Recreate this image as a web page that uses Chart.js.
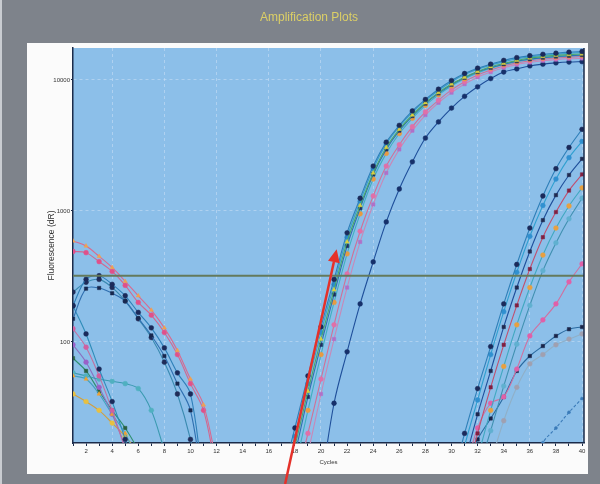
<!DOCTYPE html>
<html>
<head>
<meta charset="utf-8">
<title>Amplification Plots</title>
<script src="https://cdn.jsdelivr.net/npm/chart.js@4.4.1/dist/chart.umd.min.js"></script>
<style>
  html, body { margin: 0; padding: 0; background: #7e838b; }
  #plot { display: block; }
</style>
</head>
<body>
<canvas id="plot" width="600" height="484"></canvas>
<script>
// ---- axis data -------------------------------------------------------
const cycleTicks = [1,2,3,4,5,6,7,8,9,10,11,12,13,14,15,16,17,18,19,20,
                    21,22,23,24,25,26,27,28,29,30,31,32,33,34,35,36,37,38,39,40];
const fluorTicks = [100, 1000, 10000];
const thresholdDR = 320;

// ---- wells that amplify early (first value is at the listed start cycle) ----
const wellE1 = [9,22,55,130,300,680,1250,2200,3350,4500,5800,7100,8500,9900,11200,12300,13200,14100,14800,15300,15700,16000,16300,16500];
const wellE2 = [7,16,42,105,250,580,1100,1950,3050,4200,5400,6700,8000,9300,10500,11600,12600,13400,14100,14700,15100,15400,15600,15800];
const wellE3 = [6,14,38,95,230,540,1050,1900,2950,4100,5300,6600,7900,9200,10400,11500,12400,13200,13900,14400,14800,15100,15300,15500];
const wellE4 = [5,11,30,80,200,470,950,1750,2750,3900,5100,6400,7700,9000,10200,11300,12300,13100,13800,14300,14700,15000,15200,15400];
const wellE5 = [4,8,20,52,135,330,700,1300,2200,3200,4400,5700,7000,8400,9700,10900,11900,12800,13500,14000,14400,14700,14900,15100];
const wellE6 = [5,14,40,105,260,580,1120,1950,2950,4100,5400,6700,8000,9300,10500,11500,12400,13100,13600,14000,14300,14500,14600];
const wellE7 = [8,34,84,195,408,824,1470,2370,3600,4780,6100,7500,8870,10250,11500,12150,12800,13200,13500,13700,13800];
const wellE8 = [8,19,48,118,275,630,1180,2100,3250,4400,5650,6950,8300,9700,11000,12100,13000,13800,14500,15000,15400,15700,16000,16200];

// ---- baseline drift of the non-amplifying wells (from cycle 1) ----
const wellB1  = [590,540,450,370,290,225,175,128,86,52,33,12];
const wellB2  = [490,480,410,345,270,200,160,118,80,48,30,10];
const wellB3  = [190,300,320,275,225,168,128,90,58,40,8];
const wellB4  = [150,255,258,235,205,152,112,78,48,30,7];
const wellB5  = [240,285,300,260,205,150,108,70,40,18,6];
const wellB6  = [188,115,62,35,18,8];
const wellB7  = [126,91,55,30,15,7];
const wellB8  = [55,52,40,28,20,12];
const wellB9  = [58,55,52,50,48,44,30,15,8];
const wellB10 = [95,70,45,28,16,9];
const wellB11 = [75,60,42,30,22,15,10];
const wellB12 = [40,35,30,24,19,14,8];

// ---- wells that amplify late ----
const wellC1  = [8,20,44,92,195,390,740,1300,2100,3050,4200];
const wellC2  = [6,16,36,80,170,340,640,1100,1750,2550,3400];
const wellC3  = [12,28,60,130,260,490,850,1320,1880,2500];
const wellC4  = [8,20,45,95,190,360,630,980,1430,1900];
const wellC5  = [13,30,65,135,260,460,740,1090,1500];
const wellC6  = [10,21,46,96,190,350,570,870,1250];
const wellC7  = [10,22,34,38,62,111,147,195,287,394];
const wellC8  = [10,18,26,38,60,78,93,111,125,130];
const wellC9  = [12,25,45,68,80,95,105,115];
const wellC10 = [10,17,22,29,37];

// start cycle of each well's list
const startCycle = {
  E1: 17, E2: 17, E3: 17, E4: 17, E5: 17, E6: 18, E7: 20, E8: 17,
  B1: 1, B2: 1, B3: 1, B4: 1, B5: 1, B6: 1, B7: 1, B8: 1, B9: 1, B10: 1, B11: 1, B12: 1,
  C1: 30, C2: 30, C3: 31, C4: 31, C5: 32, C6: 32, C7: 31, C8: 31, C9: 33, C10: 36
};

// ---- look of each trace: line colour, marker colour, marker shape ----
const look = {
  E1: ['#2e7fb8', '#1b2a5a', 'circle'],
  E2: ['#4aa86a', '#d9d040', 'triangle'],
  E3: ['#2f6fb0', '#1e3060', 'rect'],
  E4: ['#40b0c0', '#e89a40', 'circle'],
  E5: ['#d07098', '#e070a8', 'circle'],
  E6: ['#c888b8', '#b070c8', 'rect'],
  E7: ['#1f4f9a', '#16306a', 'circle'],
  E8: ['#3aa0c8', '#2a8fd0', 'circle'],
  B1: ['#d86a90', '#f0a050', 'triangle'],
  B2: ['#d06890', '#e0508a', 'circle'],
  B3: ['#2e7fb8', '#1b2a5a', 'circle'],
  B4: ['#2f6fb0', '#18284e', 'rect'],
  B5: ['#3a8ab0', '#202c58', 'circle'],
  B6: ['#2e8cb8', '#1b2a5a', 'circle'],
  B7: ['#c070a0', '#d060a0', 'circle'],
  B8: ['#40a0c0', '#f0a030', 'triangle'],
  B9: ['#3a9ab0', '#50b0c0', 'circle'],
  B10: ['#8a70c0', '#9a60c8', 'circle'],
  B11: ['#2e8f70', '#2a6040', 'rect'],
  B12: ['#d0a040', '#e8c040', 'circle'],
  C1: ['#2e7fb8', '#1b2a5a', 'circle'],
  C2: ['#30a0d0', '#3090d0', 'circle'],
  C3: ['#1f4f9a', '#202a50', 'rect'],
  C4: ['#c05070', '#802040', 'rect'],
  C5: ['#40a8c0', '#e8a040', 'circle'],
  C6: ['#4090b0', '#60b0d0', 'circle'],
  C7: ['#d070a0', '#e060a8', 'circle'],
  C8: ['#2a6aa0', '#1a2448', 'rect'],
  C9: ['#90b0c8', '#a0a0b0', 'circle'],
  C10: ['#3a7ab8', '#3a7ab8', 'circle']
};

const wells = {
  E1: wellE1, E2: wellE2, E3: wellE3, E4: wellE4, E5: wellE5, E6: wellE6, E7: wellE7, E8: wellE8,
  B1: wellB1, B2: wellB2, B3: wellB3, B4: wellB4, B5: wellB5, B6: wellB6,
  B7: wellB7, B8: wellB8, B9: wellB9, B10: wellB10, B11: wellB11, B12: wellB12,
  C1: wellC1, C2: wellC2, C3: wellC3, C4: wellC4, C5: wellC5, C6: wellC6,
  C7: wellC7, C8: wellC8, C9: wellC9, C10: wellC10
};

const datasets = Object.keys(wells).map(name => {
  const [line, marker, shape] = look[name];
  return {
    label: name,
    data: wells[name].map((v, i) => ({ x: startCycle[name] + i, y: v })),
    borderColor: line,
    borderWidth: 1.1,
    borderDash: name === 'C10' ? [3, 2] : [],
    pointBackgroundColor: marker,
    pointBorderColor: marker,
    pointBorderWidth: 0.5,
    pointRadius: name === 'C10' ? 1.5 : 2.4,
    pointStyle: shape,
    tension: 0.35,
    order: 1
  };
});

// threshold line across the whole run
datasets.push({
  label: 'Threshold',
  data: [{ x: 1, y: thresholdDR }, { x: 40.15, y: thresholdDR }],
  borderColor: '#637a5c',
  borderWidth: 2,
  pointRadius: 0,
  tension: 0,
  order: 0
});

// panel, plot background, heading and the pointer arrow
const panel = {
  id: 'panel',
  beforeDraw(chart) {
    const { ctx, chartArea: a } = chart;
    ctx.save();
    ctx.fillStyle = '#7e838b';
    ctx.fillRect(0, 0, chart.width, chart.height);
    ctx.fillStyle = '#c9ccd1';
    ctx.fillRect(0, 0, 2, chart.height);
    ctx.fillStyle = '#fbfbfb';
    ctx.fillRect(27, 43, 561, 431);
    ctx.fillStyle = '#8cbfe9';
    ctx.fillRect(a.left, a.top, a.right - a.left, a.bottom - a.top);
    ctx.fillStyle = '#dccf66';
    ctx.font = '12px "Liberation Sans", Arial, sans-serif';
    ctx.textAlign = 'center';
    ctx.textBaseline = 'middle';
    ctx.fillText('Amplification Plots', 309, 18);
    ctx.restore();
  },
  afterDraw(chart) {
    const { ctx, chartArea: a, scales: { x, y } } = chart;
    ctx.save();
    // right frame of the plot
    ctx.strokeStyle = '#1b2b4a';
    ctx.lineWidth = 1.5;
    ctx.beginPath();
    ctx.moveTo(a.right, a.top);
    ctx.lineTo(a.right, a.bottom);
    ctx.stroke();
    // pointer arrow towards the early curves
    const tx = x.getPixelForValue(21.2), ty = y.getPixelForValue(510);
    const sx = x.getPixelForValue(17.25), sy = chart.height;
    const ang = Math.atan2(ty - sy, tx - sx);
    const head = 13, half = 6;
    const bx = tx - head * Math.cos(ang), by = ty - head * Math.sin(ang);
    ctx.strokeStyle = '#e5312a';
    ctx.fillStyle = '#e5312a';
    ctx.lineWidth = 2.5;
    ctx.beginPath();
    ctx.moveTo(sx, sy);
    ctx.lineTo(bx, by);
    ctx.stroke();
    ctx.beginPath();
    ctx.moveTo(tx, ty);
    ctx.lineTo(bx + half * Math.sin(ang), by - half * Math.cos(ang));
    ctx.lineTo(bx - half * Math.sin(ang), by + half * Math.cos(ang));
    ctx.closePath();
    ctx.fill();
    ctx.restore();
  }
};

const gridTint = 'rgba(210,228,248,0.5)';
const axisInk = '#1b2b4a';
const labelFont = { family: '"Liberation Sans", Arial, sans-serif', size: 6 };

new Chart(document.getElementById('plot'), {
  type: 'line',
  data: { datasets },
  options: {
    responsive: false,
    animation: false,
    devicePixelRatio: 1,
    layout: { padding: { left: 27, top: 48, right: 16, bottom: 10 } },
    plugins: { legend: { display: false }, tooltip: { enabled: false }, title: { display: false } },
    scales: {
      x: {
        type: 'linear',
        min: 1,
        max: 40.15,
        afterBuildTicks(scale) { scale.ticks = cycleTicks.map(v => ({ value: v })); },
        afterFit(scale) { scale.height = 31; },
        ticks: {
          autoSkip: false,
          maxRotation: 0,
          padding: 2,
          color: '#333',
          font: labelFont,
          callback: v => (v % 2 === 0 ? String(v) : '')
        },
        grid: {
          color: c => (c.tick && c.tick.value % 4 === 0 ? gridTint : 'rgba(0,0,0,0)'),
          tickColor: axisInk,
          tickLength: 3,
          lineWidth: 1
        },
        border: { color: axisInk, width: 1.5, dash: [3, 3] },
        title: { display: true, text: 'Cycles', color: '#333', font: labelFont, padding: { top: 0, bottom: 8 } }
      },
      y: {
        type: 'logarithmic',
        min: 16.9,
        max: 17540,
        afterBuildTicks(scale) { scale.ticks = fluorTicks.map(v => ({ value: v, major: true })); },
        afterFit(scale) { scale.width = 46; },
        ticks: {
          padding: 1,
          color: '#333',
          font: labelFont,
          callback: v => String(v)
        },
        grid: {
          color: gridTint,
          tickColor: axisInk,
          tickLength: 2,
          lineWidth: 1
        },
        border: { color: axisInk, width: 1.5, dash: [3, 3] },
        title: {
          display: true,
          text: 'Fluorescence (dR)',
          color: '#333',
          font: { family: '"Liberation Sans", Arial, sans-serif', size: 8.5 },
          padding: { top: 20, bottom: 0 }
        }
      }
    }
  },
  plugins: [panel]
});
</script>
</body>
</html>
